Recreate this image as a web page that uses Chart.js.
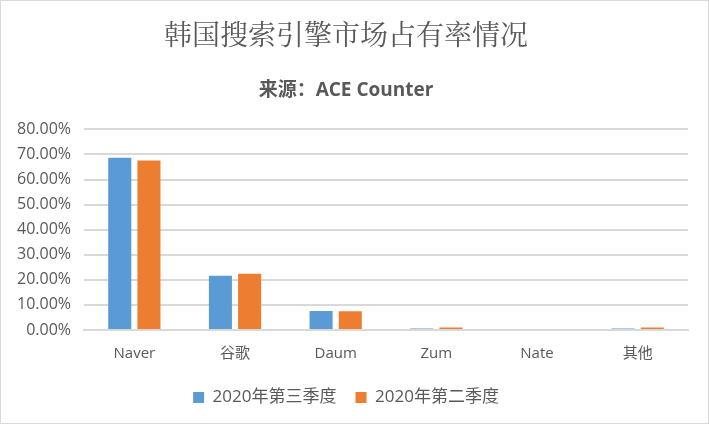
<!DOCTYPE html>
<html>
<head>
<meta charset="utf-8">
<script src="https://cdn.jsdelivr.net/npm/chart.js@4/dist/chart.umd.min.js"></script>
<style>
  html, body { margin: 0; padding: 0; background: #fff; }
  #wrap { width: 707px; height: 422px; border: 1px solid #d9d9d9; position: relative; }
</style>
</head>
<body>
<div id="wrap"><canvas id="c" width="707" height="422"></canvas></div>
<script>
const categories = ['Naver', '谷歌', 'Daum', 'Zum', 'Nate', '其他'];
const q3 = [68.7, 21.6, 7.6, 0.6, 0.0, 0.6];   // 2020年第三季度
const q2 = [67.6, 22.4, 7.5, 1.0, 0.0, 1.0];   // 2020年第二季度
const yTicks = [0, 10, 20, 30, 40, 50, 60, 70, 80];

const textColor = '#595959';
const font = '"Open Sans", "Noto Sans CJK SC", sans-serif';

new Chart(document.getElementById('c'), {
  type: 'bar',
  data: {
    labels: categories,
    datasets: [
      { label: '2020年第三季度', data: q3, backgroundColor: '#5b9bd5', categoryPercentage: 0.58, barPercentage: 0.79 },
      { label: '2020年第二季度', data: q2, backgroundColor: '#ed7d31', categoryPercentage: 0.58, barPercentage: 0.79 }
    ]
  },
  options: {
    responsive: false,
    animation: false,
    layout: { padding: { left: 3, right: 20, top: 8, bottom: 7 } },
    scales: {
      x: {
        grid: { display: false },
        border: { color: '#d9d9d9', width: 2 },
        ticks: { color: textColor, font: { family: font, size: 15 }, padding: 7 }
      },
      y: {
        min: 0, max: 80,
        afterBuildTicks: ax => { ax.ticks = yTicks.map(v => ({ value: v })); },
        grid: { color: '#d9d9d9', lineWidth: 2, drawTicks: false },
        border: { display: false },
        ticks: {
          color: textColor, font: { family: font, size: 16 }, padding: 13,
          callback: v => v.toFixed(2) + '%'
        }
      }
    },
    plugins: {
      title: {
        display: true, text: '韩国搜索引擎市场占有率情况', color: textColor,
        font: { family: '"Noto Serif CJK SC", "Noto Sans CJK SC", serif', size: 28, weight: 'normal' },
        padding: { top: 9, bottom: 28 }
      },
      subtitle: {
        display: true, text: '来源：ACE Counter', color: textColor,
        font: { family: font, size: 19, weight: 'bold' },
        padding: { top: 0, bottom: 27 }
      },
      legend: {
        position: 'bottom',
        labels: {
          color: textColor, boxWidth: 11, boxHeight: 11, padding: 19,
          font: { family: font, size: 17 }
        }
      },
      tooltip: { enabled: false }
    }
  }
});
</script>
</body>
</html>
